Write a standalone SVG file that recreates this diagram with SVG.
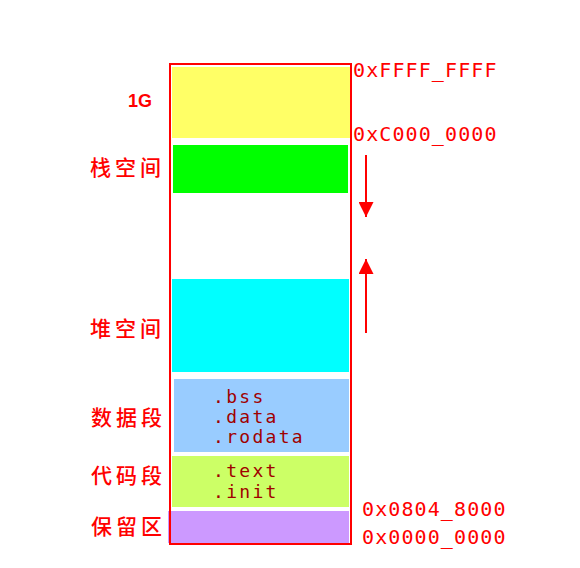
<svg xmlns="http://www.w3.org/2000/svg" width="580" height="568" viewBox="0 0 580 568">
<defs>
<style>
.lbl{font-family:"Noto Sans CJK SC","Noto Sans",sans-serif;font-size:21px;font-weight:500;fill:#ff0000;letter-spacing:4px;dominant-baseline:central}
.hex{font-family:"DejaVu Sans Mono","Liberation Mono",monospace;font-size:20px;fill:#ff0000;letter-spacing:1.1px}
.sec{font-family:"DejaVu Sans Mono","Liberation Mono",monospace;font-size:18px;fill:#a00000;letter-spacing:2.3px}
.arr{stroke:#ff0000;stroke-width:2;fill:none}
</style>
<marker id="ah" viewBox="0 0 10 10" refX="10" refY="5" markerWidth="15" markerHeight="15" markerUnits="userSpaceOnUse" orient="auto">
<path d="M0,0 L10,5 L0,10 Z" fill="#ff0000"/>
</marker>
</defs>
<rect width="580" height="568" fill="#ffffff"/>
<g id="seg-1g"><rect x="172" y="67" width="178" height="71" fill="#ffff66"/><text x="152" y="107" style="font-family:'Liberation Sans',Arial,sans-serif;font-size:18px;font-weight:bold;fill:#ff0000" text-anchor="end">1G</text></g>
<g id="seg-stack"><rect x="173" y="145" width="175" height="48" fill="#00ff00"/><text class="lbl" x="90" y="166">栈空间</text></g>
<g id="seg-heap"><rect x="172" y="279" width="177" height="93" fill="#00ffff"/><text class="lbl" x="90" y="327">堆空间</text></g>
<g id="seg-data"><rect x="174" y="379" width="175" height="73" fill="#99ccff"/><text class="lbl" x="91" y="416">数据段</text>
<text class="sec" x="213" y="403">.bss</text><text class="sec" x="213" y="423">.data</text><text class="sec" x="213" y="443">.rodata</text></g>
<g id="seg-code"><rect x="172" y="456" width="177" height="51" fill="#ccff66"/><text class="lbl" x="91" y="474">代码段</text>
<text class="sec" x="213" y="477">.text</text><text class="sec" x="213" y="498">.init</text></g>
<g id="seg-reserved"><rect x="168" y="511" width="181" height="32" fill="#cc99ff"/><text class="lbl" x="91" y="525">保留区</text></g>
<g id="frame"><rect x="170" y="64" width="181" height="480" fill="none" stroke="#ff0000" stroke-width="2"/></g>
<g id="addresses">
<text class="hex" x="353" y="77">0xFFFF_FFFF</text>
<text class="hex" x="353" y="141">0xC000_0000</text>
<text class="hex" x="362" y="516">0x0804_8000</text>
<text class="hex" x="362" y="544">0x0000_0000</text>
</g>
<g id="connectors">
<line class="arr" x1="366" y1="155" x2="366" y2="217" marker-end="url(#ah)"/>
<line class="arr" x1="366" y1="333" x2="366" y2="259" marker-end="url(#ah)"/>
</g>
</svg>
